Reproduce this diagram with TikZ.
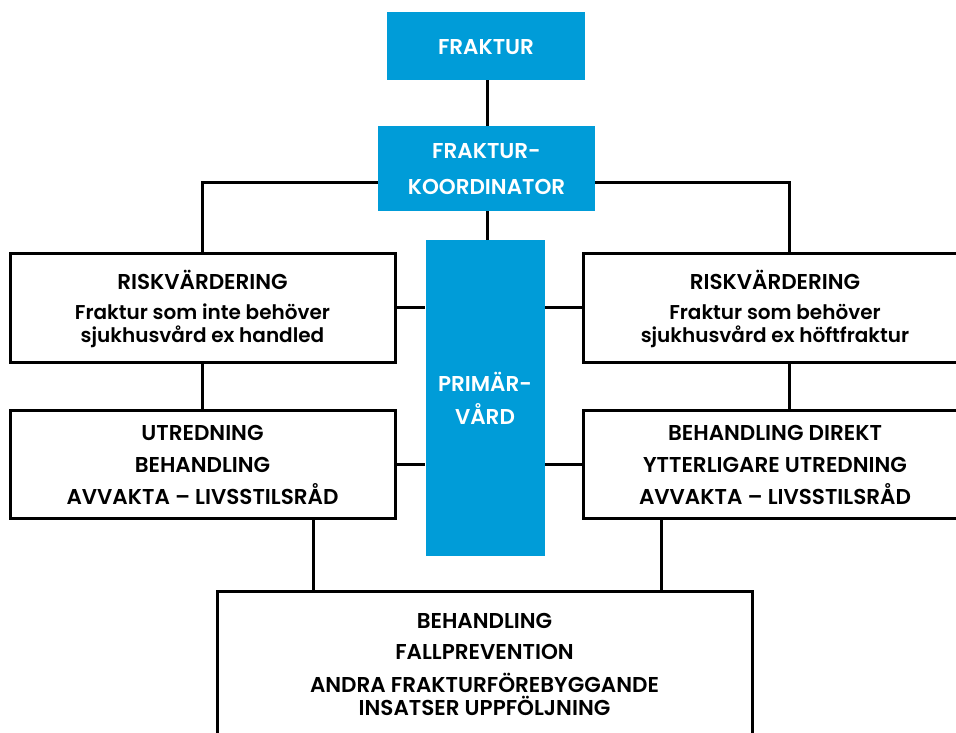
\documentclass[tikz,border=0pt]{standalone}
\usepackage{fontspec}
\setmainfont{Poppins}[BoldFont={Poppins SemiBold}]
\usetikzlibrary{calc}
\definecolor{fblue}{RGB}{0,156,216}
\begin{document}
\begin{tikzpicture}[x=1pt,y=-1pt,
  bluebox/.style={fill=fblue,text=white,font=\bfseries\fontsize{21.5}{36}\selectfont,align=center,inner sep=0pt},
  whitebox/.style={draw=black,line width=3pt,fill=white,align=center,inner sep=0pt},
  boxtext/.style={align=center,inner sep=0pt,font=\bfseries\fontsize{21.5}{32}\selectfont},
  conn/.style={draw=black,line width=3pt}]
\useasboundingbox (0,0) rectangle (956,733);
\clip (0,0) rectangle (956,733);
\coordinate (vc) at (487,0);
\coordinate (vr) at (789,0);
\coordinate (bl) at (313,0);
\coordinate (br) at (661,0);
\node[bluebox,minimum width=198pt,minimum height=68pt] (frak) at (486,46) {};
\node[bluebox,minimum width=217pt,minimum height=85pt] (koord) at (486.5,168.5) {};
\node[bluebox,minimum width=119pt,minimum height=316pt] (prim) at (485,398) {};
\node[whitebox,minimum width=385pt,minimum height=109pt] (r1) at (202.5,307.5) {};
\node[whitebox,minimum width=384pt,minimum height=109pt] (r2) at (775,307.5) {};
\node[whitebox,minimum width=385pt,minimum height=108pt] (u1) at (202.5,464) {};
\node[whitebox,minimum width=384pt,minimum height=108pt] (u2) at (775,464) {};
\node[whitebox,minimum width=535pt,minimum height=180pt] (bot) at (484.5,681) {};
\coordinate (kl) at ([yshift=-13.5pt]koord.west);
\coordinate (kr) at ([yshift=-13.5pt]koord.east);
% texts
\node[bluebox] (tfrak) at (486,47) {FRAKTUR};
\node[bluebox] (tkoord) at (486.5,169) {FRAKTUR-\\KOORDINATOR};
\node[bluebox,font=\bfseries\fontsize{21.5}{33}\selectfont] (tprim) at (485,398.5) {PRIMÄR-\\VÅRD};
\node[boxtext,font=\bfseries\fontsize{21.5}{23}\selectfont] (tr1) at (202.5,308.5) {RISKVÄRDERING\\[7pt]{\fontsize{20}{23}\selectfont Fraktur som inte behöver}\\{\fontsize{20}{23}\selectfont sjukhusvård ex handled}};
\node[boxtext,font=\bfseries\fontsize{21.5}{23}\selectfont] (tr2) at (775,308.5) {RISKVÄRDERING\\[7pt]{\fontsize{20}{23}\selectfont Fraktur som behöver}\\{\fontsize{20}{23}\selectfont sjukhusvård ex höftfraktur}};
\node[boxtext] (tu1) at (202.5,465) {UTREDNING\\BEHANDLING\\AVVAKTA – LIVSSTILSRÅD};
\node[boxtext] (tu2) at (775,465) {BEHANDLING DIREKT\\YTTERLIGARE UTREDNING\\AVVAKTA – LIVSSTILSRÅD};
\node[boxtext,font=\bfseries\fontsize{21.5}{23}\selectfont] (tbot) at (484.5,664.5) {BEHANDLING\\[8pt]FALLPREVENTION\\[10pt]ANDRA FRAKTURFÖREBYGGANDE\\INSATSER UPPFÖLJNING};
% connectors
\draw[conn] (frak.south -| vc) -- (koord.north -| vc);
\draw[conn] (koord.south -| vc) -- (prim.north -| vc);
\draw[conn] (kl) -| (r1.north);
\draw[conn] (kr) -| (r2.north -| vr);
\draw[conn] (r1.east) -- (r1.east -| prim.west);
\draw[conn] (r2.west) -- (r2.west -| prim.east);
\draw[conn] (u1.east) -- (u1.east -| prim.west);
\draw[conn] (u2.west) -- (u2.west -| prim.east);
\draw[conn] (r1.south) -- (u1.north);
\draw[conn] (r2.south -| vr) -- (u2.north -| vr);
\draw[conn] (u1.south -| bl) -- (bot.north -| bl);
\draw[conn] (u2.south -| br) -- (bot.north -| br);
\end{tikzpicture}
\end{document}
